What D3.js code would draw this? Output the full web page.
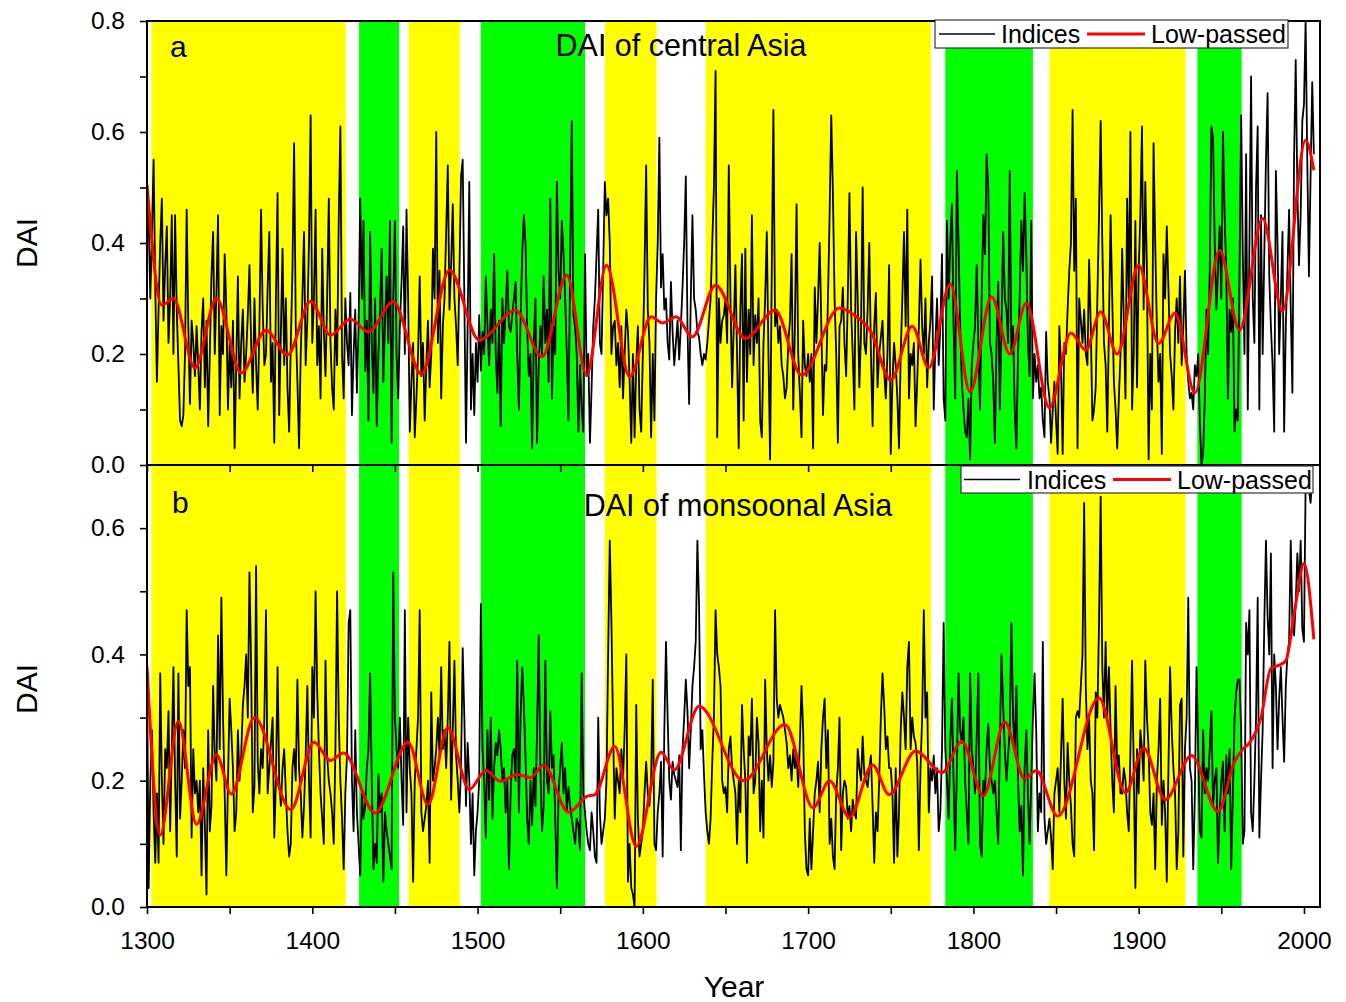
<!DOCTYPE html>
<html><head><meta charset="utf-8">
<script src="https://cdn.jsdelivr.net/npm/d3@7"></script>
<style>body{margin:0;background:#fff}svg{display:block}</style>
</head><body><svg id="c" width="1346" height="1002"></svg>
<script>
// ---------------- DATA ----------------
const startYearA = 1300;
const valuesA = [
0.50,0.44,0.30,0.42,0.55,0.32,0.15,0.28,0.40,0.48,
0.26,0.36,0.43,0.22,0.30,0.45,0.20,0.45,0.28,0.18,
0.08,0.07,0.09,0.20,0.46,0.25,0.11,0.26,0.22,0.16,
0.25,0.18,0.10,0.24,0.30,0.14,0.26,0.07,0.20,0.34,
0.42,0.20,0.31,0.45,0.09,0.25,0.20,0.38,0.28,0.10,
0.22,0.14,0.26,0.03,0.18,0.34,0.12,0.22,0.28,0.15,
0.20,0.27,0.36,0.22,0.13,0.30,0.18,0.10,0.25,0.46,
0.28,0.18,0.20,0.32,0.42,0.15,0.22,0.04,0.30,0.49,
0.09,0.24,0.39,0.18,0.30,0.14,0.06,0.22,0.35,0.58,
0.25,0.15,0.03,0.20,0.30,0.42,0.18,0.26,0.40,0.63,
0.22,0.30,0.46,0.18,0.25,0.12,0.39,0.24,0.16,0.30,
0.48,0.22,0.14,0.10,0.28,0.18,0.44,0.61,0.20,0.12,
0.30,0.22,0.18,0.31,0.09,0.20,0.28,0.13,0.25,0.48,
0.30,0.44,0.17,0.26,0.08,0.42,0.22,0.13,0.30,0.07,
0.20,0.28,0.39,0.15,0.26,0.34,0.22,0.44,0.04,0.30,
0.44,0.20,0.12,0.25,0.33,0.43,0.20,0.46,0.30,0.06,
0.15,0.22,0.05,0.12,0.20,0.34,0.16,0.22,0.08,0.18,
0.26,0.14,0.20,0.39,0.30,0.60,0.22,0.35,0.12,0.25,
0.30,0.42,0.54,0.28,0.36,0.47,0.30,0.25,0.18,0.34,
0.52,0.55,0.30,0.04,0.25,0.51,0.10,0.20,0.09,0.22,
0.15,0.27,0.17,0.24,0.20,0.34,0.25,0.18,0.28,0.22,
0.38,0.20,0.13,0.26,0.07,0.30,0.22,0.28,0.35,0.25,
0.24,0.27,0.30,0.33,0.20,0.10,0.26,0.38,0.45,0.40,
0.25,0.16,0.20,0.03,0.22,0.30,0.04,0.18,0.25,0.20,
0.34,0.22,0.28,0.15,0.48,0.12,0.25,0.20,0.51,0.35,
0.30,0.44,0.38,0.30,0.20,0.08,0.35,0.62,0.27,0.25,
0.20,0.06,0.18,0.10,0.06,0.38,0.16,0.20,0.04,0.14,
0.25,0.30,0.38,0.46,0.22,0.20,0.35,0.51,0.45,0.48,
0.40,0.20,0.25,0.26,0.18,0.22,0.14,0.25,0.12,0.20,
0.28,0.24,0.15,0.04,0.20,0.05,0.18,0.25,0.10,0.06,
0.20,0.35,0.54,0.28,0.22,0.05,0.20,0.08,0.30,0.40,
0.59,0.32,0.38,0.28,0.30,0.22,0.19,0.33,0.24,0.18,
0.22,0.26,0.19,0.25,0.32,0.40,0.52,0.25,0.11,0.30,
0.45,0.30,0.28,0.24,0.23,0.20,0.18,0.20,0.19,0.22,
0.26,0.30,0.40,0.50,0.71,0.05,0.30,0.22,0.26,0.27,
0.30,0.22,0.54,0.30,0.14,0.25,0.36,0.20,0.03,0.28,
0.38,0.08,0.39,0.15,0.28,0.20,0.45,0.18,0.27,0.22,
0.30,0.08,0.05,0.22,0.30,0.42,0.20,0.01,0.35,0.64,
0.25,0.28,0.22,0.25,0.18,0.16,0.12,0.14,0.22,0.26,
0.38,0.10,0.25,0.47,0.20,0.13,0.05,0.26,0.18,0.16,
0.20,0.15,0.20,0.03,0.32,0.22,0.30,0.40,0.25,0.09,
0.18,0.17,0.30,0.45,0.63,0.49,0.30,0.20,0.04,0.25,
0.26,0.32,0.22,0.16,0.30,0.49,0.28,0.20,0.10,0.42,
0.30,0.14,0.24,0.50,0.22,0.20,0.28,0.40,0.20,0.07,
0.25,0.31,0.14,0.20,0.23,0.26,0.17,0.12,0.20,0.36,
0.02,0.15,0.22,0.18,0.12,0.03,0.20,0.30,0.42,0.25,
0.46,0.12,0.20,0.18,0.22,0.07,0.15,0.25,0.37,0.25,
0.20,0.30,0.14,0.22,0.26,0.34,0.10,0.22,0.30,0.18,
0.25,0.38,0.12,0.08,0.44,0.30,0.40,0.47,0.25,0.12,
0.53,0.40,0.25,0.15,0.10,0.06,0.05,0.12,0.01,0.18,
0.22,0.25,0.36,0.22,0.10,0.30,0.45,0.38,0.56,0.50,
0.22,0.20,0.15,0.04,0.22,0.33,0.10,0.25,0.42,0.30,
0.28,0.22,0.53,0.20,0.25,0.10,0.03,0.20,0.30,0.44,
0.35,0.49,0.38,0.22,0.16,0.44,0.12,0.20,0.15,0.18,
0.12,0.14,0.08,0.05,0.24,0.15,0.12,0.04,0.10,0.15,
0.08,0.02,0.25,0.18,0.02,0.22,0.20,0.28,0.35,0.40,
0.64,0.35,0.48,0.03,0.30,0.26,0.22,0.28,0.20,0.18,
0.37,0.25,0.08,0.10,0.14,0.30,0.45,0.62,0.40,0.22,
0.18,0.06,0.25,0.45,0.30,0.15,0.10,0.03,0.12,0.20,
0.39,0.26,0.12,0.48,0.30,0.60,0.10,0.20,0.44,0.14,
0.35,0.45,0.61,0.28,0.51,0.35,0.01,0.20,0.10,0.58,
0.40,0.25,0.15,0.20,0.02,0.38,0.30,0.43,0.32,0.20,
0.16,0.10,0.24,0.30,0.22,0.34,0.18,0.25,0.35,0.20,
0.15,0.12,0.13,0.10,0.18,0.16,0.20,0.08,0.00,0.02,
0.12,0.28,0.20,0.35,0.61,0.59,0.40,0.28,0.35,0.43,
0.30,0.60,0.45,0.35,0.12,0.28,0.24,0.30,0.06,0.10,
0.08,0.35,0.63,0.38,0.20,0.56,0.10,0.40,0.70,0.30,
0.22,0.50,0.61,0.10,0.45,0.20,0.38,0.55,0.67,0.34,
0.25,0.18,0.06,0.53,0.40,0.20,0.30,0.42,0.06,0.25,
0.35,0.46,0.28,0.13,0.55,0.73,0.50,0.36,0.45,0.62,
0.65,0.80,0.55,0.34,0.52,0.69,0.56
];

const startYearB = 1300;
const valuesB = [
0.38,0.03,0.20,0.28,0.15,0.07,0.18,0.07,0.37,0.20,
0.10,0.25,0.22,0.31,0.12,0.25,0.38,0.20,0.08,0.37,
0.14,0.20,0.28,0.22,0.47,0.35,0.38,0.11,0.25,0.18,
0.20,0.15,0.20,0.05,0.22,0.13,0.02,0.28,0.12,0.16,
0.35,0.24,0.20,0.43,0.25,0.49,0.30,0.18,0.05,0.20,
0.33,0.28,0.22,0.12,0.15,0.28,0.20,0.24,0.32,0.35,
0.40,0.30,0.53,0.38,0.15,0.19,0.54,0.23,0.18,0.25,
0.22,0.30,0.47,0.18,0.22,0.26,0.30,0.11,0.20,0.38,
0.20,0.16,0.22,0.25,0.18,0.12,0.08,0.10,0.22,0.25,
0.20,0.36,0.22,0.18,0.11,0.16,0.24,0.35,0.20,0.11,
0.38,0.30,0.50,0.34,0.25,0.18,0.14,0.10,0.39,0.24,
0.20,0.18,0.15,0.10,0.25,0.50,0.30,0.20,0.14,0.06,
0.18,0.24,0.45,0.47,0.20,0.12,0.28,0.15,0.10,0.05,
0.18,0.14,0.16,0.22,0.25,0.37,0.20,0.06,0.10,0.07,
0.21,0.15,0.18,0.04,0.15,0.12,0.10,0.08,0.06,0.53,
0.30,0.25,0.22,0.30,0.20,0.13,0.47,0.15,0.30,0.22,
0.18,0.04,0.20,0.25,0.30,0.47,0.15,0.12,0.14,0.16,
0.20,0.07,0.34,0.20,0.22,0.25,0.30,0.24,0.38,0.25,
0.28,0.22,0.30,0.42,0.17,0.28,0.39,0.24,0.20,0.15,
0.22,0.41,0.30,0.16,0.26,0.20,0.10,0.18,0.05,0.12,
0.15,0.20,0.48,0.25,0.20,0.11,0.28,0.17,0.30,0.14,
0.22,0.26,0.24,0.28,0.25,0.20,0.22,0.15,0.20,0.06,
0.18,0.24,0.25,0.20,0.39,0.15,0.30,0.38,0.32,0.24,
0.14,0.10,0.20,0.13,0.22,0.16,0.28,0.43,0.22,0.12,
0.16,0.39,0.20,0.18,0.31,0.22,0.24,0.14,0.03,0.18,
0.22,0.26,0.18,0.22,0.15,0.19,0.16,0.14,0.12,0.10,
0.14,0.13,0.09,0.37,0.18,0.15,0.12,0.10,0.09,0.15,
0.12,0.08,0.07,0.30,0.15,0.10,0.12,0.14,0.20,0.40,
0.58,0.45,0.28,0.14,0.22,0.20,0.18,0.25,0.20,0.28,
0.40,0.04,0.10,0.03,0.02,0.00,0.32,0.14,0.08,0.10,
0.12,0.18,0.23,0.18,0.16,0.20,0.36,0.10,0.09,0.15,
0.18,0.23,0.08,0.28,0.42,0.30,0.20,0.17,0.23,0.21,
0.20,0.19,0.24,0.09,0.25,0.30,0.36,0.31,0.22,0.28,
0.35,0.38,0.42,0.58,0.48,0.25,0.28,0.21,0.15,0.12,
0.10,0.14,0.23,0.30,0.47,0.40,0.38,0.35,0.20,0.18,
0.19,0.15,0.25,0.27,0.22,0.20,0.18,0.10,0.20,0.15,
0.32,0.25,0.20,0.07,0.27,0.24,0.33,0.18,0.20,0.30,
0.26,0.12,0.20,0.11,0.36,0.25,0.20,0.24,0.19,0.23,
0.47,0.33,0.30,0.32,0.31,0.30,0.28,0.26,0.22,0.24,
0.20,0.25,0.22,0.24,0.19,0.26,0.35,0.28,0.12,0.06,
0.05,0.14,0.06,0.12,0.18,0.20,0.23,0.15,0.25,0.30,
0.33,0.22,0.28,0.10,0.14,0.08,0.06,0.18,0.22,0.30,
0.09,0.18,0.20,0.19,0.14,0.16,0.12,0.17,0.15,0.14,
0.25,0.22,0.20,0.27,0.21,0.20,0.19,0.22,0.24,0.16,
0.07,0.15,0.12,0.20,0.30,0.37,0.32,0.25,0.27,0.22,
0.22,0.18,0.07,0.22,0.08,0.15,0.28,0.34,0.30,0.25,
0.38,0.42,0.25,0.30,0.27,0.26,0.23,0.09,0.22,0.30,
0.47,0.30,0.34,0.15,0.22,0.20,0.24,0.18,0.22,0.12,
0.15,0.25,0.45,0.25,0.20,0.14,0.26,0.33,0.20,0.09,
0.22,0.37,0.28,0.26,0.30,0.20,0.15,0.10,0.37,0.25,
0.22,0.18,0.27,0.37,0.10,0.08,0.20,0.18,0.25,0.29,
0.22,0.20,0.18,0.20,0.15,0.10,0.26,0.40,0.32,0.25,
0.20,0.24,0.28,0.45,0.30,0.25,0.35,0.20,0.12,0.16,
0.05,0.22,0.28,0.18,0.10,0.20,0.30,0.37,0.28,0.12,
0.18,0.15,0.42,0.14,0.10,0.12,0.14,0.11,0.06,0.18,
0.20,0.22,0.15,0.24,0.33,0.20,0.14,0.26,0.20,0.16,
0.10,0.08,0.30,0.31,0.30,0.35,0.40,0.64,0.35,0.25,
0.30,0.20,0.18,0.09,0.34,0.30,0.45,0.65,0.38,0.30,
0.42,0.30,0.38,0.28,0.20,0.15,0.35,0.22,0.24,0.18,
0.18,0.22,0.20,0.15,0.12,0.25,0.39,0.22,0.03,0.25,
0.18,0.28,0.25,0.20,0.39,0.30,0.25,0.15,0.13,0.18,
0.06,0.20,0.25,0.33,0.13,0.20,0.15,0.04,0.22,0.38,
0.28,0.22,0.18,0.06,0.12,0.32,0.33,0.08,0.25,0.30,
0.49,0.22,0.20,0.06,0.18,0.38,0.25,0.12,0.11,0.28,
0.18,0.22,0.20,0.25,0.31,0.16,0.20,0.22,0.07,0.15,
0.20,0.23,0.12,0.24,0.18,0.25,0.06,0.18,0.30,0.34,
0.36,0.36,0.28,0.10,0.12,0.45,0.40,0.47,0.15,0.12,
0.20,0.30,0.49,0.11,0.20,0.28,0.45,0.58,0.46,0.40,
0.56,0.22,0.40,0.35,0.25,0.33,0.38,0.30,0.23,0.35,
0.40,0.42,0.58,0.45,0.43,0.48,0.56,0.50,0.58,0.44,
0.42,0.67,0.70,0.66,0.64,0.68
];

// low-passed curves (read at turning points)
const lowYearsA  = [1300,1309,1316,1329,1342,1357,1372,1385,1399,1411,1423,1434,1449,1466,1483,1501,1523,1539,1554,1566,1578,1592,1605,1612,1620,1630,1644,1662,1680,1696,1719,1728,1738,1750,1763,1773,1786,1798,1811,1822,1832,1846,1859,1868,1877,1887,1900,1912,1922,1934,1949,1961,1975,1987,2001,2006];
const lowValuesA = [0.505,0.288,0.300,0.175,0.300,0.166,0.243,0.198,0.295,0.234,0.263,0.240,0.294,0.164,0.351,0.225,0.279,0.195,0.342,0.162,0.360,0.159,0.267,0.256,0.267,0.231,0.324,0.228,0.279,0.162,0.283,0.270,0.240,0.153,0.250,0.175,0.326,0.132,0.303,0.200,0.292,0.103,0.238,0.207,0.276,0.200,0.360,0.219,0.274,0.130,0.387,0.243,0.444,0.277,0.585,0.531];

const lowYearsB  = [1300,1308,1319,1330,1342,1351,1365,1387,1401,1411,1419,1438,1458,1470,1482,1495,1505,1514,1524,1532,1540,1555,1566,1571,1583,1596,1611,1619,1634,1661,1686,1703,1713,1725,1739,1749,1765,1781,1793,1806,1819,1831,1838,1851,1876,1892,1903,1916,1932,1948,1958,1963,1967,1974,1980,1985,1989,1995,2000,2006];
const lowValuesB = [0.381,0.114,0.294,0.131,0.241,0.179,0.300,0.154,0.261,0.232,0.244,0.149,0.261,0.162,0.284,0.186,0.216,0.199,0.210,0.205,0.225,0.150,0.175,0.178,0.254,0.096,0.245,0.217,0.318,0.200,0.289,0.157,0.200,0.142,0.225,0.178,0.247,0.213,0.262,0.176,0.293,0.203,0.216,0.144,0.331,0.181,0.252,0.170,0.240,0.151,0.230,0.250,0.260,0.300,0.378,0.383,0.390,0.480,0.544,0.424];

// shaded periods
const bandStart = [1302.6,1428.3,1458.3,1502,1577,1638,1783,1846,1935.5];
const bandEnd   = [1420.3,1452.5,1489.3,1565,1608.3,1774.3,1836,1928.3,1962.3];
const bandColor = ["#ffff00","#00ff00","#ffff00","#00ff00","#ffff00","#ffff00","#00ff00","#ffff00","#00ff00"];

const xTickValues = [1300,1350,1400,1450,1500,1550,1600,1650,1700,1750,1800,1850,1900,1950,2000];
const yTickValuesA = [0,0.1,0.2,0.3,0.4,0.5,0.6,0.7,0.8];
const yTickValuesB = [0,0.1,0.2,0.3,0.4,0.5,0.6];

const titleA = "DAI of central Asia", titleB = "DAI of monsoonal Asia";
const legendLabels = ["Indices","Low-passed"];

// ---------------- DRAW ----------------
const FONT = "'Liberation Sans', Arial, sans-serif";
const svg = d3.select("#c");
const L = 147, R = 1320, TA = 21, MID = 465, BB = 907;

const x = d3.scaleLinear().domain([1300, 2009.7]).range([L, R]);
const yA = d3.scaleLinear().domain([0, 0.8]).range([MID, TA]);
const yB = d3.scaleLinear().domain([0, 0.7]).range([BB, MID]);

const defs = svg.append("defs");
defs.append("clipPath").attr("id","clipA").append("rect").attr("x",L).attr("y",TA).attr("width",R-L).attr("height",MID-TA);
defs.append("clipPath").attr("id","clipB").append("rect").attr("x",L).attr("y",MID).attr("width",R-L).attr("height",BB-MID);

// bands
svg.append("g").selectAll("rect").data(bandStart).join("rect")
  .attr("x", (d)=>x(d)).attr("y", TA)
  .attr("width", (d,i)=>x(bandEnd[i])-x(d)).attr("height", BB-TA)
  .attr("fill", (d,i)=>bandColor[i]);

function drawPanel(values, startYear, lowYears, lowValues, y, clip) {
  const g = svg.append("g").attr("clip-path", `url(#${clip})`);
  const pts = values.map((v,i)=>[startYear+i, v]);
  g.append("path").datum(pts)
    .attr("d", d3.line().x(d=>x(d[0])).y(d=>y(d[1])))
    .attr("fill","none").attr("stroke","#000").attr("stroke-width",1.8).attr("stroke-linejoin","round");
  const lp = lowYears.map((yr,i)=>[yr, lowValues[i]]);
  g.append("path").datum(lp)
    .attr("d", d3.line().curve(d3.curveMonotoneX).x(d=>x(d[0])).y(d=>y(d[1])))
    .attr("fill","none").attr("stroke","#ff0000").attr("stroke-width",3);
}
drawPanel(valuesA, startYearA, lowYearsA, lowValuesA, yA, "clipA");
drawPanel(valuesB, startYearB, lowYearsB, lowValuesB, yB, "clipB");

// frames
svg.append("rect").attr("x",L).attr("y",TA).attr("width",R-L).attr("height",MID-TA)
  .attr("fill","none").attr("stroke","#000").attr("stroke-width",2);
svg.append("rect").attr("x",L).attr("y",MID).attr("width",R-L).attr("height",BB-MID)
  .attr("fill","none").attr("stroke","#000").attr("stroke-width",2);

function styleAxis(g){
  g.select(".domain").remove();
  g.selectAll(".tick line").attr("stroke","#000").attr("stroke-width",1.6);
  g.selectAll("text").attr("font-family",FONT).attr("font-size",24.5).attr("fill","#000");
}
const yFmt = d => (Math.round(d*10) % 2 === 0) ? d3.format(".1f")(d) : "";
svg.append("g").attr("transform",`translate(${L},0)`)
  .call(d3.axisLeft(yA).tickValues(yTickValuesA).tickFormat(yFmt).tickSize(7).tickPadding(15))
  .call(styleAxis);
svg.append("g").attr("transform",`translate(${L},0)`)
  .call(d3.axisLeft(yB).tickValues(yTickValuesB).tickFormat(yFmt).tickSize(7).tickPadding(15))
  .call(styleAxis);
svg.append("g").attr("transform",`translate(0,${MID})`)
  .call(d3.axisBottom(x).tickValues(xTickValues).tickFormat("").tickSize(7))
  .call(styleAxis);
svg.append("g").attr("transform",`translate(0,${BB})`)
  .call(d3.axisBottom(x).tickValues(xTickValues).tickFormat(d => d % 100 === 0 ? d : "").tickSize(7).tickPadding(18))
  .call(styleAxis);

// axis titles
function txt(t, px, py, size, anchor, rot) {
  const e = svg.append("text").text(t).attr("font-family",FONT).attr("font-size",size)
    .attr("fill","#000").attr("text-anchor",anchor||"start");
  if (rot) e.attr("transform",`translate(${px},${py}) rotate(${rot})`);
  else e.attr("x",px).attr("y",py);
  return e;
}
txt("DAI", 37, 243, 30, "middle", -90);
txt("DAI", 37, 689, 30, "middle", -90);
txt("Year", 734, 997, 30, "middle");
txt("a", 170, 57, 30, "start");
txt("b", 172, 513, 30, "start");
txt(titleA, 681, 56, 30.5, "middle");
txt(titleB, 738, 516, 30.5, "middle");

// legends
function legend(bx, by, bw, bh, lx0, lx1, tx1, rx0, rx1, tx2) {
  const g = svg.append("g");
  g.append("rect").attr("x",bx).attr("y",by).attr("width",bw).attr("height",bh)
    .attr("fill","#fff").attr("stroke","#333").attr("stroke-width",1.2);
  const cy = by + bh/2;
  g.append("line").attr("x1",lx0).attr("x2",lx1).attr("y1",cy).attr("y2",cy).attr("stroke","#000").attr("stroke-width",1.5);
  g.append("text").text(legendLabels[0]).attr("x",tx1).attr("y",cy+9).attr("font-family",FONT).attr("font-size",25);
  g.append("line").attr("x1",rx0).attr("x2",rx1).attr("y1",cy).attr("y2",cy).attr("stroke","#ff0000").attr("stroke-width",3);
  g.append("text").text(legendLabels[1]).attr("x",tx2).attr("y",cy+9).attr("font-family",FONT).attr("font-size",25);
}
legend(935, 20, 353, 28, 939, 995, 1001, 1087, 1145, 1151);
legend(961, 466, 352, 27, 964, 1020, 1027, 1113, 1171, 1177);
</script></body></html>
